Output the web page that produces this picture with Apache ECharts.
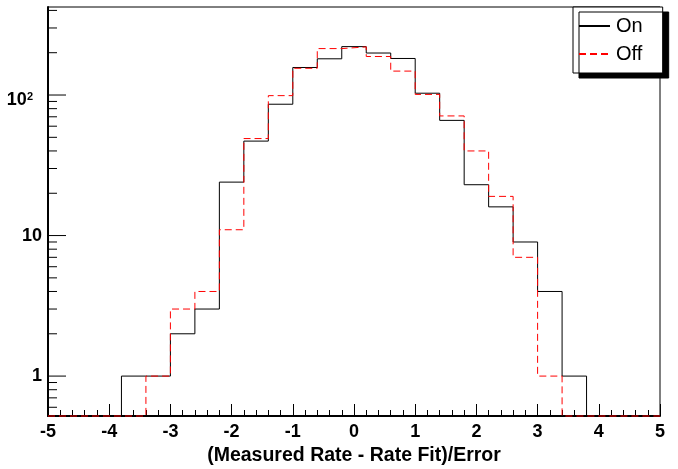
<!DOCTYPE html>
<html><head><meta charset="utf-8">
<script src="https://cdn.jsdelivr.net/npm/echarts@6/dist/echarts.min.js"></script>
<style>html,body{margin:0;padding:0;background:#fff}#c{width:678px;height:469px}</style>
</head><body><div id="c"></div>
<script>
// Histogram bin edges (25 bins, width 0.4)
const binEdges = [-5.0,-4.6,-4.2,-3.8,-3.4,-3.0,-2.6,-2.2,-1.8,-1.4,-1.0,-0.6,-0.2,0.2,0.6,1.0,1.4,1.8,2.2,2.6,3.0,3.4,3.8,4.2,4.6,5.0];
// Counts per bin
const onCounts  = [0,0,0,1,1,2,3,24,47,86,157,181,221,199,182,103,66,23,16,9,4,1,0,0,0];
const offCounts = [0,0,0,0,1,3,4,11,49,99,155,214,220,188,148,101,71,40,19,7,1,0,0,0,0];
// Axis settings / tick values
const yMajorTicks = [1,10,100];
const yMinorTicks = [0.6,0.7,0.8,0.9,2,3,4,5,6,7,8,9,20,30,40,50,60,70,80,90,200,300,400];
const X_MIN = -5, X_MAX = 5;
const Y_MIN = 0.52, Y_MAX = 423;
const seriesNames = ['On','Off'];
const xTitle = '(Measured Rate - Rate Fit)/Error';

function stepPoints(counts){
  const pts = [];
  for (let k = 0; k < counts.length; k++) {
    pts.push([binEdges[k], counts[k] > 0 ? counts[k] : Y_MIN]);
  }
  const last = counts[counts.length-1];
  pts.push([binEdges[binEdges.length-1], last > 0 ? last : Y_MIN]);
  return pts;
}
function isPow10(v){ const l = Math.log10(v); return Math.abs(l - Math.round(l)) < 1e-6; }

const FONT = 'Liberation Sans, Arial, Helvetica, sans-serif';
const chart = echarts.init(document.getElementById('c'), null, {renderer:'canvas'});
const tickData = yMajorTicks.map(v => [X_MIN, v, 1]).concat(yMinorTicks.map(v => [X_MIN, v, 0]));

chart.setOption({
  animation: false,
  backgroundColor: '#fff',
  grid: {left: 48, right: 18, top: 7, bottom: 53, outerBoundsMode: 'none', containLabel: false,
    show: true, borderColor: '#000', borderWidth: 1, backgroundColor: 'transparent'},
  legend: {
    data: seriesNames,
    orient: 'vertical',
    left: 573, top: 7,
    padding: [9, 20, 9, 5],
    itemGap: 8,
    itemWidth: 31, itemHeight: 14,
    itemStyle: {opacity: 0},
    backgroundColor: '#fff',
    borderColor: '#000', borderWidth: 1,
    shadowColor: '#000', shadowBlur: 0, shadowOffsetX: 6, shadowOffsetY: 5,
    textStyle: {fontFamily: FONT, fontSize: 20, lineHeight: 20, color: '#000', padding: [0,0,0,1]}
  },
  xAxis: {
    type: 'value', min: X_MIN, max: X_MAX, interval: 1,
    name: xTitle, nameLocation: 'middle', nameGap: 30,
    nameTextStyle: {fontFamily: FONT, fontSize: 19.5, fontWeight: 'bold', color: '#000'},
    axisLine: {show: true, onZero: false, lineStyle: {color: '#000', width: 2}},
    axisTick: {show: true, inside: true, length: 12, lineStyle: {color: '#000', width: 1}},
    minorTick: {show: true, splitNumber: 5, length: 6, lineStyle: {color: '#000', width: 1}},
    splitLine: {show: false},
    axisLabel: {fontFamily: FONT, fontSize: 18, fontWeight: 'bold', color: '#000', margin: 7,
      formatter: v => String(v)}
  },
  yAxis: {
    type: 'log', logBase: 10, min: Y_MIN, max: Y_MAX,
    axisLine: {show: true, onZero: false, lineStyle: {color: '#000', width: 2}},
    axisTick: {show: false},
    minorTick: {show: false},
    splitLine: {show: false},
    axisLabel: {
      margin: 6, showMinLabel: false, showMaxLabel: false,
      formatter: function(v){
        if (!isPow10(v)) return '';
        const e = Math.round(Math.log10(v));
        if (e >= 2) return '{p|10}{sup|' + e + '}';
        return '{b|' + String(Math.round(v)) + '}';
      },
      rich: {
        b: {fontFamily: FONT, fontSize: 18, fontWeight: 'bold', color: '#000', lineHeight: 18},
        p: {fontFamily: FONT, fontSize: 18, fontWeight: 'bold', color: '#000', lineHeight: 18, padding: [10,0,0,0]},
        sup: {fontFamily: FONT, fontSize: 11, fontWeight: 'bold', color: '#000', lineHeight: 11, padding: [10,9,7,0]}
      }
    }
  },
  series: [
    {
      name: seriesNames[0], type: 'line', step: 'end', symbol: 'none', clip: false,
      data: stepPoints(onCounts),
      lineStyle: {color: '#000', width: 1}, itemStyle: {color: '#000'}, z: 3
    },
    {
      name: seriesNames[1], type: 'line', step: 'end', symbol: 'none', clip: false,
      data: stepPoints(offCounts),
      lineStyle: {color: '#ff0000', width: 1, type: [7,4]}, itemStyle: {color: '#ff0000'}, z: 4
    },
    {
      name: 'yticks', type: 'custom', coordinateSystem: 'cartesian2d', silent: true, clip: false,
      data: tickData, encode: {x: 0, y: 1},
      renderItem: function(params, api){
        const p = api.coord([api.value(0), api.value(1)]);
        const len = api.value(2) ? 18 : 9;
        return {type: 'line', shape: {x1: p[0], y1: p[1], x2: p[0] + len, y2: p[1]},
          style: {stroke: '#000', lineWidth: 1}};
      },
      z: 5
    }
  ]
});
</script></body></html>
